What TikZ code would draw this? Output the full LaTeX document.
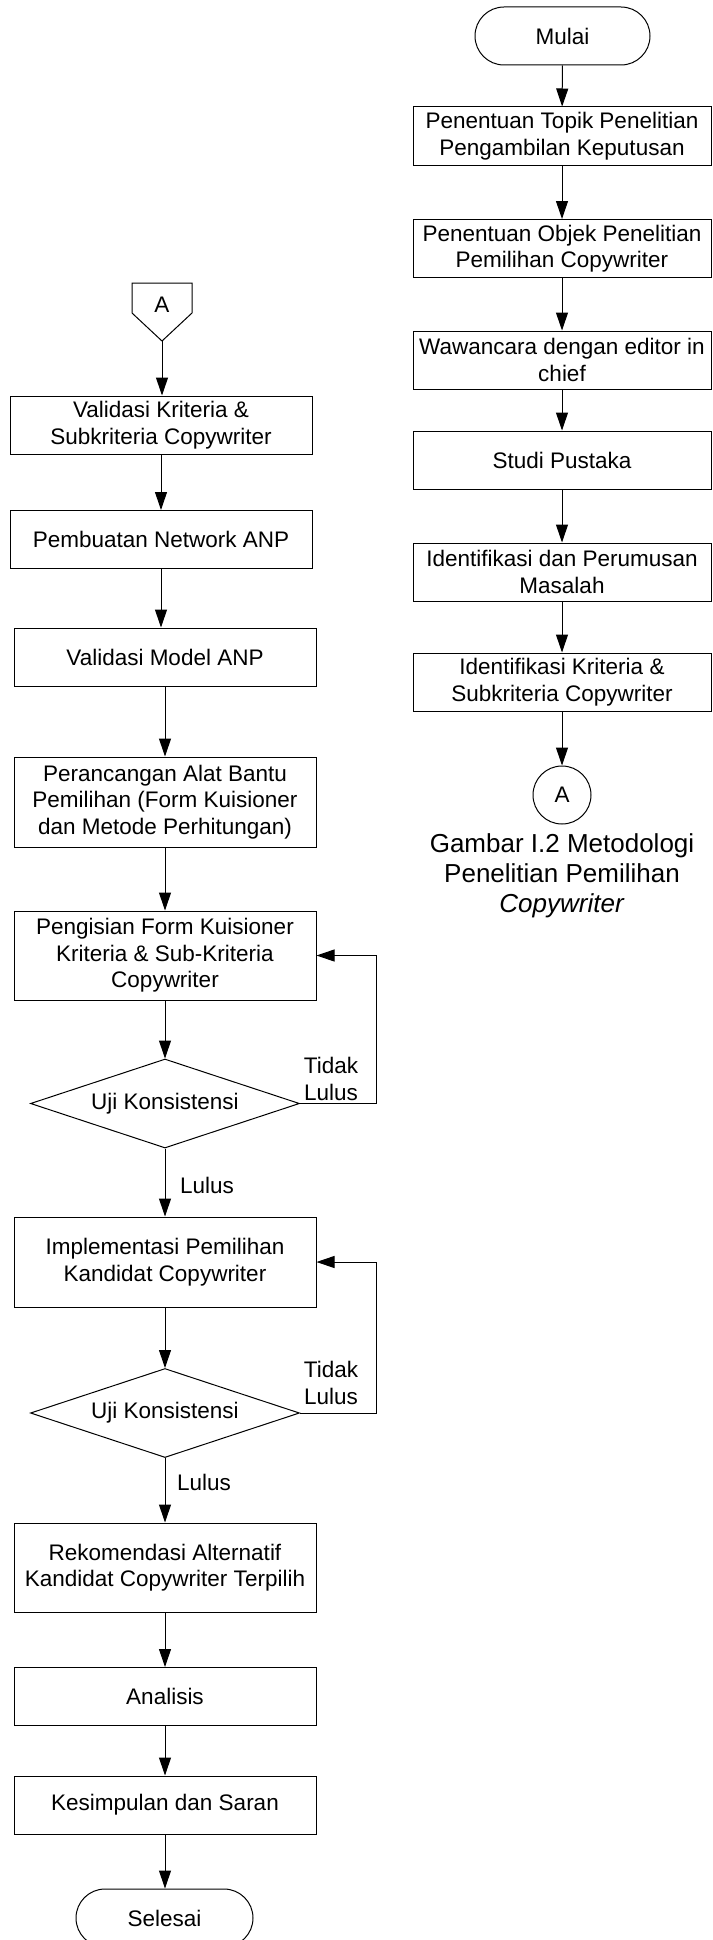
\documentclass[tikz,border=0pt]{standalone}
\usepackage{fontspec}
\setmainfont{Liberation Sans}
\usetikzlibrary{arrows.meta,shapes.geometric}
\begin{document}
\begin{tikzpicture}[x=1pt,y=-1pt,
  every node/.style={font=\fontsize{22.5}{26.5}\selectfont},
  procbox/.style={draw,line width=1pt,rectangle,align=center,inner sep=0pt,minimum height=58pt},
  rbox/.style={procbox,minimum width=298pt},
  lbox/.style={procbox,minimum width=302pt},
  termbox/.style={draw,line width=1pt,rectangle,rounded corners=29pt,minimum height=58pt,inner sep=0pt},
  decbox/.style={draw,line width=1pt,diamond,aspect=3,inner sep=0pt,minimum width=269pt,minimum height=89pt},
  arr/.style={draw,line width=1pt,-{Triangle[length=18pt,width=12pt]}},
  lbl/.style={align=center,inner sep=0pt}
]
\clip (0,0) rectangle (712,1940);
\fill[white] (0,0) rectangle (712,1940);

% right column
\node[termbox,minimum width=175pt] (mulai) at (562.5,36) {Mulai};
\node[rbox] (r1) at (562,136) {Penentuan Topik Penelitian\\Pengambilan Keputusan};
\node[rbox] (r2) at (562,248.5) {Penentuan Objek Penelitian\\Pemilihan Copywriter};
\node[rbox] (r3) at (562,360) {Wawancara dengan editor in\\chief};
\node[rbox] (r4) at (562,460) {Studi Pustaka};
\node[rbox] (r5) at (562,572) {Identifikasi dan Perumusan\\Masalah};
\node[rbox] (r6) at (562,682) {Identifikasi Kriteria \&\\Subkriteria Copywriter};
\node[draw,line width=1pt,circle,minimum size=58pt,inner sep=0pt] (rA) at (562,795) {A};
\node[lbl,font=\fontsize{26}{30}\selectfont] (cap) at (562,876) {Gambar I.2 Metodologi\\Penelitian Pemilihan\\\textit{Copywriter}};

\draw[arr] (mulai) -- (r1);
\draw[arr] (r1) -- (r2);
\draw[arr] (r2) -- (r3);
\draw[arr] (r3) -- (r4);
\draw[arr] (r4) -- (r5);
\draw[arr] (r5) -- (r6);
\draw[arr] (r6) -- (rA);

% left column
\draw[line width=1pt] (132,283) -- (192,283) -- (192,313) -- (162,341) -- (132,313) -- cycle;
\node[lbl] (lA) at (162,305) {A};
\coordinate (lAtip) at (162,341);
\node[lbox] (l1) at (161,425) {Validasi Kriteria \&\\Subkriteria Copywriter};
\node[lbox] (l2) at (161,539.5) {Pembuatan Network ANP};
\node[lbox] (l3) at (165,657) {Validasi Model ANP};
\node[lbox,minimum height=90pt] (l4) at (165,802) {Perancangan Alat Bantu\\Pemilihan (Form Kuisioner\\dan Metode Perhitungan)};
\node[lbox,minimum height=89pt] (l5) at (165,955.5) {Pengisian Form Kuisioner\\Kriteria \& Sub-Kriteria\\Copywriter};
\node[decbox] (d1) at (165,1103.5) {Uji Konsistensi};
\node[lbox,minimum height=90pt] (l6) at (165,1262) {Implementasi Pemilihan\\Kandidat Copywriter};
\node[decbox] (d2) at (165,1413) {Uji Konsistensi};
\node[lbox,minimum height=89pt] (l7) at (165,1567.5) {Rekomendasi Alternatif\\Kandidat Copywriter Terpilih};
\node[lbox] (l8) at (165,1696.5) {Analisis};
\node[lbox] (l9) at (165,1805) {Kesimpulan dan Saran};
\node[termbox,minimum width=177pt] (selesai) at (164.5,1918) {Selesai};

\coordinate (fx) at (376,0);

\draw[arr] (lAtip) -- (lAtip |- l1.north);
\draw[arr] (l1) -- (l2);
\draw[arr] (l2.south) -- (l2.south |- l3.north);
\draw[arr] (l3) -- (l4);
\draw[arr] (l4) -- (l5);
\draw[arr] (l5) -- (d1);
\draw[arr] (d1) -- (l6);
\draw[arr] (l6) -- (d2);
\draw[arr] (d2) -- (l7);
\draw[arr] (l7) -- (l8);
\draw[arr] (l8) -- (l9);
\draw[arr] (l9.south) -- (l9.south |- selesai.north);
\draw[arr] (d1.east) -- (d1.east -| fx) |- (l5.east);
\draw[arr] (d2.east) -- (d2.east -| fx) |- (l6.east);

\node[lbl] (t1) at (331,1079) {Tidak\\Lulus};
\node[lbl] (t2) at (331,1383) {Tidak\\Lulus};
\node[lbl,anchor=west] (p1) at (180,1185) {Lulus};
\node[lbl,anchor=west] (p2) at (177,1482) {Lulus};
\end{tikzpicture}
\end{document}
